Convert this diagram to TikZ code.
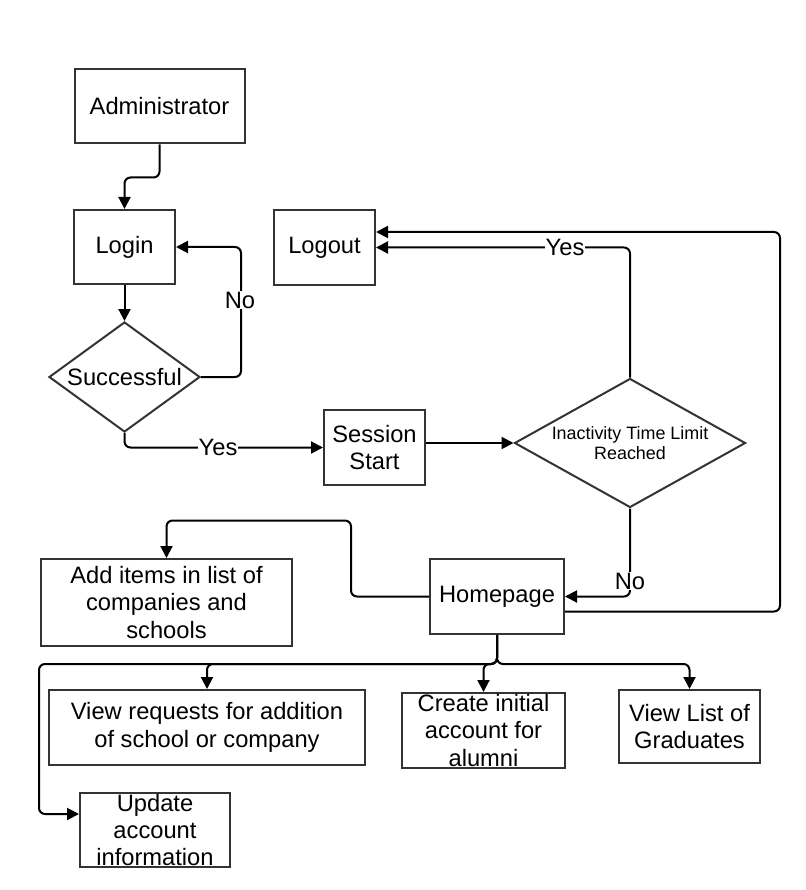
\documentclass[tikz,border=0pt]{standalone}
\usepackage{fontspec}
\setmainfont{Liberation Sans}
\usetikzlibrary{arrows.meta,shapes.geometric,calc}
\newcommand\mainfs{\fontsize{23.7}{27.3}\selectfont}
\newcommand\smallfs{\fontsize{17.9}{20.7}\selectfont}
\begin{document}
\begin{tikzpicture}[x=1pt,y=-1pt,
  box/.style={draw=black!80, line width=2pt, inner sep=0pt, align=center, font=\mainfs},
  dia/.style={draw=black!80, line width=2pt, diamond, inner sep=0pt},
  conn/.style={line width=2pt, -{Triangle[length=12pt,width=12pt]}, rounded corners=6pt},
  lbl/.style={fill=white, inner sep=1pt, font=\mainfs}]
\useasboundingbox[fill=white] (0,0) rectangle (805,890);
% boxes
\node[box, minimum width=170pt, minimum height=74pt] (admin) at (159.5,106.5) {Administrator};
\node[box, minimum width=101pt, minimum height=74pt] (login) at (124.5,247) {Login};
\node[dia, minimum width=151pt, minimum height=110pt] (succ) at (124.5,377) {};
\node[font=\mainfs, inner sep=0pt] (succt) at (succ) {Successful};
\node[box, minimum width=101pt, minimum height=75pt] (logout) at (324.5,247.5) {Logout};
\node[box, minimum width=101pt, minimum height=75pt] (sess) at (374.5,447.5) {Session\\Start};
\node[dia, minimum width=231pt, minimum height=129pt] (inact) at (630,443) {};
\node[font=\smallfs, align=center, inner sep=0pt] (inactt) at (inact) {Inactivity Time Limit\\Reached};
\node[box, minimum width=134pt, minimum height=75pt] (home) at (497,596.5) {Homepage};
\node[box, minimum width=251pt, minimum height=87pt] (addi) at (166.5,602.5) {Add items in list of\\companies and\\schools};
\node[box, minimum width=316pt, minimum height=75pt] (vreq) at (207,727.5) {View requests for addition\\of school or company};
\node[box, minimum width=163pt, minimum height=75pt] (create) at (483.5,730.5) {Create initial\\account for\\alumni};
\node[box, minimum width=141pt, minimum height=73pt] (vlist) at (689.5,726.5) {View List of\\Graduates};
\node[box, minimum width=150pt, minimum height=74pt] (upd) at (155,830) {Update\\account\\information};
% connectors
\draw[conn] (admin.south) -- ++(0,33) -| (login.north);
\draw[conn] (login.south) -- (succ.north);
\draw[conn] (succ.east) -- ++(40,0) |- (login.east);
\node[lbl] (no1) at (240,300) {No};
\draw[conn] (succ.south) |- (sess.west);
\node[lbl] (yes1) at (218,447) {Yes};
\draw[conn] (sess.east |- inact.west) -- (inact.west);
\draw[conn] (inact.north) |- (logout.east);
\node[lbl] (yes2) at (565,247.5) {Yes};
\draw[conn] (inact.south) |- (home.east);
\node[lbl] (no2) at (630,581) {No};
\draw[conn] ($(home.east)+(0,15)$) -- (780,611.5) |- ($(logout.east)+(0,-15.5)$);
\draw[conn] (home.west) -| ++(-78,-76) -| (addi.north);
\draw[conn] (home.south) -- ++(0,29) -| (vreq.north);
\draw[conn] (home.south) -- ++(0,29) -| (create.north);
\draw[conn] (home.south) -- ++(0,29) -| (vlist.north);
\draw[conn] (home.south) -- ++(0,29) -| ($(upd.west)+(-40,-16)$) -- ($(upd.west)+(0,-16)$);
\end{tikzpicture}
\end{document}
